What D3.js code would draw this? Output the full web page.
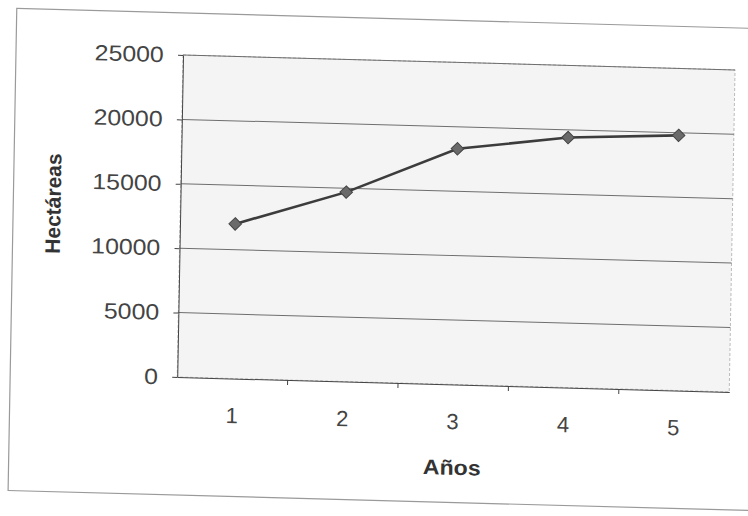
<!DOCTYPE html>
<html>
<head>
<meta charset="utf-8">
<script src="https://cdn.jsdelivr.net/npm/d3@7"></script>
<style>
  body { margin: 0; background: #fff; }
  svg { display: block; font-family: "Liberation Sans", Arial, sans-serif; }
</style>
</head>
<body>
<div id="chart"></div>
<script>
// hectares per year
const years = ["1", "2", "3", "4", "5"];
const hectares = [12000, 14700, 18300, 19400, 19800];
const yTicks = [0, 5000, 10000, 15000, 20000, 25000];

const width = 748,
  height = 516,
  plot = { left: 183, right: 735, top: 55, bottom: 377 };

const svg = d3
  .select("#chart")
  .append("svg")
  .attr("width", width)
  .attr("height", height);

// the scanned page is a little skewed: right side lower, bottom a bit left
const skewX = -0.018,
  skewY = 0.027;
const g = svg
  .append("g")
  .attr(
    "transform",
    `matrix(1,${skewY},${skewX},1,${-skewX * 56},${-skewY * plot.left})`
  );

// outer chart border
g.append("rect")
  .attr("x", 16)
  .attr("y", 13)
  .attr("width", 760)
  .attr("height", 482)
  .attr("fill", "none")
  .attr("stroke", "#9a9a9a")
  .attr("stroke-width", 1.2);

const x = d3
  .scaleBand()
  .domain(years)
  .range([plot.left, plot.right])
  .padding(0);

const y = d3
  .scaleLinear()
  .domain([0, 25000])
  .range([plot.bottom, plot.top]);

// plot area
g.append("rect")
  .attr("x", plot.left)
  .attr("y", plot.top)
  .attr("width", plot.right - plot.left)
  .attr("height", plot.bottom - plot.top)
  .attr("fill", "#f4f4f4")
  .attr("stroke", "#bbb")
  .attr("stroke-dasharray", "3,2");

// gridlines
g.append("g")
  .selectAll("line")
  .data(yTicks.filter((d) => d > 0))
  .join("line")
  .attr("x1", plot.left)
  .attr("x2", plot.right)
  .attr("y1", (d) => y(d))
  .attr("y2", (d) => y(d))
  .attr("stroke", "#6e6e6e")
  .attr("stroke-width", 1);

// y axis
const yAxis = g
  .append("g")
  .attr("transform", `translate(${plot.left},0)`)
  .call(
    d3
      .axisLeft(y)
      .tickValues(yTicks)
      .tickFormat(d3.format("d"))
      .tickSize(5)
      .tickSizeOuter(0)
  );
yAxis.select(".domain").attr("stroke", "#444");
yAxis.selectAll(".tick line").attr("stroke", "#444");
yAxis
  .selectAll("text")
  .attr("x", -17)
  .attr("transform", "scale(1.13,1)")
  .attr("font-size", 22)
  .attr("fill", "#444")
  .attr("font-family", "Liberation Sans, Arial, sans-serif");

// x axis
const xAxis = g
  .append("g")
  .attr("transform", `translate(0,${plot.bottom})`)
  .call(d3.axisBottom(x).tickSize(0).tickSizeOuter(0));
xAxis.select(".domain").attr("stroke", "#444");
xAxis
  .selectAll("text")
  .attr("y", 37)
  .attr("dy", "0.35em")
  .attr("font-size", 22)
  .attr("fill", "#444")
  .attr("font-family", "Liberation Sans, Arial, sans-serif");

// tick marks between categories
g.append("g")
  .selectAll("line")
  .data(years.slice(1))
  .join("line")
  .attr("x1", (d) => x(d))
  .attr("x2", (d) => x(d))
  .attr("y1", plot.bottom)
  .attr("y2", plot.bottom + 5)
  .attr("stroke", "#444");

// axis titles
g.append("text")
  .attr("text-anchor", "middle")
  .attr("transform", `translate(${(plot.left + plot.right) / 2},460) scale(1.1,1)`)
  .attr("dy", "0.35em")
  .attr("font-size", 21)
  .attr("font-weight", "bold")
  .attr("fill", "#333")
  .text("Años");

g.append("text")
  .attr("text-anchor", "middle")
  .attr("transform", "translate(56,207) rotate(-90)")
  .attr("dy", "0.35em")
  .attr("font-size", 21)
  .attr("font-weight", "bold")
  .attr("fill", "#333")
  .text("Hectáreas");

// line + diamond markers
const line = d3
  .line()
  .x((d, i) => x(years[i]) + x.bandwidth() / 2)
  .y((d) => y(d));

g.append("path")
  .datum(hectares)
  .attr("fill", "none")
  .attr("stroke", "#3c3c3c")
  .attr("stroke-width", 2.6)
  .attr("d", line);

g.append("g")
  .selectAll("path")
  .data(hectares)
  .join("path")
  .attr("d", d3.symbol(d3.symbolDiamond2, 100))
  .attr(
    "transform",
    (d, i) => `translate(${x(years[i]) + x.bandwidth() / 2},${y(d)})`
  )
  .attr("fill", "#6a6a6a")
  .attr("stroke", "#444")
  .attr("stroke-width", 1);
</script>
</body>
</html>
